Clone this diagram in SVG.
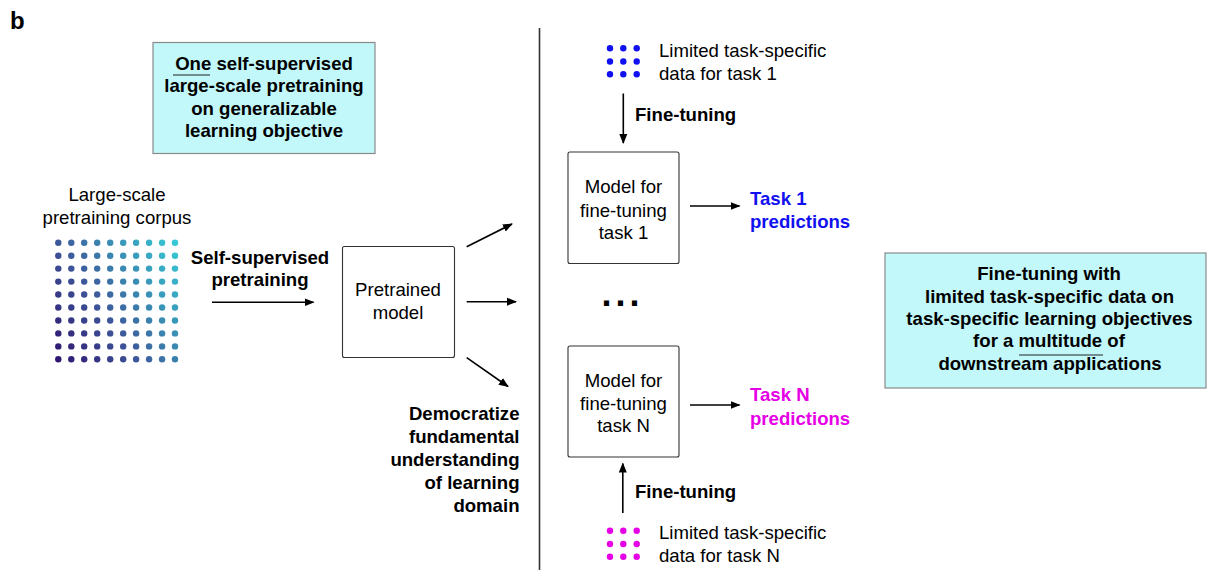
<svg xmlns="http://www.w3.org/2000/svg" width="1208" height="570" viewBox="0 0 1208 570">
<style>
text{font-family:"Liberation Sans",Arial,Helvetica,sans-serif;font-size:18.6px;fill:#000}
.b{font-weight:bold}
.c{text-anchor:middle}
.r{text-anchor:end}
.cyan{fill:#c2f8fa;stroke:#8a8a8a;stroke-width:1.2}
.box{fill:#fff;stroke:#333;stroke-width:1.1}
.arr{stroke:#000;stroke-width:1.6;fill:none;marker-end:url(#ah)}
.ul{stroke:#222;stroke-width:1.2}
.blue{fill:#1010f0}
.mag{fill:#e600e6}
</style>
<defs>
<marker id="ah" markerUnits="userSpaceOnUse" markerWidth="10" markerHeight="10" viewBox="0 0 10 10" refX="9" refY="5" orient="auto">
<path d="M0,1 L10,5 L0,9 Z" fill="#000"/>
</marker>
<linearGradient id="dg" gradientUnits="userSpaceOnUse" x1="57" y1="359" x2="192" y2="268">
<stop offset="0" stop-color="#2f1570"/>
<stop offset="0.4" stop-color="#3d5699"/>
<stop offset="0.6" stop-color="#3b80ad"/>
<stop offset="1" stop-color="#36c9d4"/>
</linearGradient>
</defs>
<rect width="1208" height="570" fill="#fff"/>
<text x="10" y="29" class="b" style="font-size:24px">b</text>
<line x1="539.5" y1="28" x2="539.5" y2="570" stroke="#333" stroke-width="1.6"/>

<g id="pretrain-objective">
<rect x="153" y="42.5" width="222" height="111" class="cyan"/>
<text x="264" y="69.5" class="b c">One self-supervised</text>
<line x1="173" y1="75" x2="210" y2="75" class="ul"/>
<text x="264" y="92" class="b c">large-scale pretraining</text>
<text x="264" y="114.5" class="b c">on generalizable</text>
<text x="264" y="137" class="b c">learning objective</text>
</g>

<g id="corpus">
<text x="117" y="201" class="c">Large-scale</text>
<text x="117" y="223.5" class="c">pretraining corpus</text>
<g fill="url(#dg)">
<circle cx="58.3" cy="242.7" r="3.2"/><circle cx="71.3" cy="242.7" r="3.2"/><circle cx="84.2" cy="242.7" r="3.2"/><circle cx="97.2" cy="242.7" r="3.2"/><circle cx="110.2" cy="242.7" r="3.2"/><circle cx="123.2" cy="242.7" r="3.2"/><circle cx="136.1" cy="242.7" r="3.2"/><circle cx="149.1" cy="242.7" r="3.2"/><circle cx="162.1" cy="242.7" r="3.2"/><circle cx="175" cy="242.7" r="3.2"/>
<circle cx="58.3" cy="255.7" r="3.2"/><circle cx="71.3" cy="255.7" r="3.2"/><circle cx="84.2" cy="255.7" r="3.2"/><circle cx="97.2" cy="255.7" r="3.2"/><circle cx="110.2" cy="255.7" r="3.2"/><circle cx="123.2" cy="255.7" r="3.2"/><circle cx="136.1" cy="255.7" r="3.2"/><circle cx="149.1" cy="255.7" r="3.2"/><circle cx="162.1" cy="255.7" r="3.2"/><circle cx="175" cy="255.7" r="3.2"/>
<circle cx="58.3" cy="268.6" r="3.2"/><circle cx="71.3" cy="268.6" r="3.2"/><circle cx="84.2" cy="268.6" r="3.2"/><circle cx="97.2" cy="268.6" r="3.2"/><circle cx="110.2" cy="268.6" r="3.2"/><circle cx="123.2" cy="268.6" r="3.2"/><circle cx="136.1" cy="268.6" r="3.2"/><circle cx="149.1" cy="268.6" r="3.2"/><circle cx="162.1" cy="268.6" r="3.2"/><circle cx="175" cy="268.6" r="3.2"/>
<circle cx="58.3" cy="281.6" r="3.2"/><circle cx="71.3" cy="281.6" r="3.2"/><circle cx="84.2" cy="281.6" r="3.2"/><circle cx="97.2" cy="281.6" r="3.2"/><circle cx="110.2" cy="281.6" r="3.2"/><circle cx="123.2" cy="281.6" r="3.2"/><circle cx="136.1" cy="281.6" r="3.2"/><circle cx="149.1" cy="281.6" r="3.2"/><circle cx="162.1" cy="281.6" r="3.2"/><circle cx="175" cy="281.6" r="3.2"/>
<circle cx="58.3" cy="294.5" r="3.2"/><circle cx="71.3" cy="294.5" r="3.2"/><circle cx="84.2" cy="294.5" r="3.2"/><circle cx="97.2" cy="294.5" r="3.2"/><circle cx="110.2" cy="294.5" r="3.2"/><circle cx="123.2" cy="294.5" r="3.2"/><circle cx="136.1" cy="294.5" r="3.2"/><circle cx="149.1" cy="294.5" r="3.2"/><circle cx="162.1" cy="294.5" r="3.2"/><circle cx="175" cy="294.5" r="3.2"/>
<circle cx="58.3" cy="307.5" r="3.2"/><circle cx="71.3" cy="307.5" r="3.2"/><circle cx="84.2" cy="307.5" r="3.2"/><circle cx="97.2" cy="307.5" r="3.2"/><circle cx="110.2" cy="307.5" r="3.2"/><circle cx="123.2" cy="307.5" r="3.2"/><circle cx="136.1" cy="307.5" r="3.2"/><circle cx="149.1" cy="307.5" r="3.2"/><circle cx="162.1" cy="307.5" r="3.2"/><circle cx="175" cy="307.5" r="3.2"/>
<circle cx="58.3" cy="320.5" r="3.2"/><circle cx="71.3" cy="320.5" r="3.2"/><circle cx="84.2" cy="320.5" r="3.2"/><circle cx="97.2" cy="320.5" r="3.2"/><circle cx="110.2" cy="320.5" r="3.2"/><circle cx="123.2" cy="320.5" r="3.2"/><circle cx="136.1" cy="320.5" r="3.2"/><circle cx="149.1" cy="320.5" r="3.2"/><circle cx="162.1" cy="320.5" r="3.2"/><circle cx="175" cy="320.5" r="3.2"/>
<circle cx="58.3" cy="333.4" r="3.2"/><circle cx="71.3" cy="333.4" r="3.2"/><circle cx="84.2" cy="333.4" r="3.2"/><circle cx="97.2" cy="333.4" r="3.2"/><circle cx="110.2" cy="333.4" r="3.2"/><circle cx="123.2" cy="333.4" r="3.2"/><circle cx="136.1" cy="333.4" r="3.2"/><circle cx="149.1" cy="333.4" r="3.2"/><circle cx="162.1" cy="333.4" r="3.2"/><circle cx="175" cy="333.4" r="3.2"/>
<circle cx="58.3" cy="346.4" r="3.2"/><circle cx="71.3" cy="346.4" r="3.2"/><circle cx="84.2" cy="346.4" r="3.2"/><circle cx="97.2" cy="346.4" r="3.2"/><circle cx="110.2" cy="346.4" r="3.2"/><circle cx="123.2" cy="346.4" r="3.2"/><circle cx="136.1" cy="346.4" r="3.2"/><circle cx="149.1" cy="346.4" r="3.2"/><circle cx="162.1" cy="346.4" r="3.2"/><circle cx="175" cy="346.4" r="3.2"/>
<circle cx="58.3" cy="359.3" r="3.2"/><circle cx="71.3" cy="359.3" r="3.2"/><circle cx="84.2" cy="359.3" r="3.2"/><circle cx="97.2" cy="359.3" r="3.2"/><circle cx="110.2" cy="359.3" r="3.2"/><circle cx="123.2" cy="359.3" r="3.2"/><circle cx="136.1" cy="359.3" r="3.2"/><circle cx="149.1" cy="359.3" r="3.2"/><circle cx="162.1" cy="359.3" r="3.2"/><circle cx="175" cy="359.3" r="3.2"/>
</g>
</g>

<g id="ssp-label">
<text x="260" y="263.5" class="b c">Self-supervised</text>
<text x="260" y="286" class="b c">pretraining</text>
</g>

<g id="pretrained-model">
<rect x="342.5" y="246.5" width="112" height="111" rx="2" class="box"/>
<text x="398" y="296" class="c">Pretrained</text>
<text x="398" y="318.5" class="c">model</text>
</g>

<g id="democratize">
<text x="519.5" y="420" class="b r">Democratize</text>
<text x="519.5" y="443" class="b r">fundamental</text>
<text x="519.5" y="465.5" class="b r">understanding</text>
<text x="519.5" y="488.5" class="b r">of learning</text>
<text x="519.5" y="511.5" class="b r">domain</text>
</g>

<g id="data-task1">
<g class="blue">
<circle cx="610" cy="48.3" r="3.2"/><circle cx="623.3" cy="48.3" r="3.2"/><circle cx="636.7" cy="48.3" r="3.2"/>
<circle cx="610" cy="61.5" r="3.2"/><circle cx="623.3" cy="61.5" r="3.2"/><circle cx="636.7" cy="61.5" r="3.2"/>
<circle cx="610" cy="74.2" r="3.2"/><circle cx="623.3" cy="74.2" r="3.2"/><circle cx="636.7" cy="74.2" r="3.2"/>
</g>
<text x="659" y="57">Limited task-specific</text>
<text x="659" y="79.5">data for task 1</text>
</g>

<g id="model-task1">
<rect x="568" y="152" width="111" height="111.5" rx="2" class="box"/>
<text x="623.5" y="193" class="c">Model for</text>
<text x="623.5" y="216.5" class="c">fine-tuning</text>
<text x="623.5" y="238.5" class="c">task 1</text>
</g>

<g id="pred-task1">
<text x="750" y="205" class="b blue">Task 1</text>
<text x="750" y="228.3" class="b blue">predictions</text>
</g>

<g id="ellipsis">
<text x="601.5" y="306" class="b" style="font-size:36px;letter-spacing:4px">...</text>
</g>

<g id="model-taskN">
<rect x="568" y="346" width="111" height="111" rx="2" class="box"/>
<text x="623.5" y="387" class="c">Model for</text>
<text x="623.5" y="410" class="c">fine-tuning</text>
<text x="623.5" y="432" class="c">task N</text>
</g>

<g id="pred-taskN">
<text x="750" y="401" class="b mag">Task N</text>
<text x="750" y="425" class="b mag">predictions</text>
</g>

<g id="data-taskN">
<g class="mag">
<circle cx="610" cy="530.7" r="3.2"/><circle cx="623.3" cy="530.7" r="3.2"/><circle cx="636.7" cy="530.7" r="3.2"/>
<circle cx="610" cy="544" r="3.2"/><circle cx="623.3" cy="544" r="3.2"/><circle cx="636.7" cy="544" r="3.2"/>
<circle cx="610" cy="556.7" r="3.2"/><circle cx="623.3" cy="556.7" r="3.2"/><circle cx="636.7" cy="556.7" r="3.2"/>
</g>
<text x="659" y="538.5">Limited task-specific</text>
<text x="659" y="561.5">data for task N</text>
</g>

<g id="finetune-objective">
<rect x="885" y="253" width="321" height="135" class="cyan"/>
<text x="1049" y="279.5" class="b c">Fine-tuning with</text>
<text x="1049.5" y="302.5" class="b c">limited task-specific data on</text>
<text x="1049.5" y="325" class="b c">task-specific learning objectives</text>
<text x="1049" y="347" class="b c">for a multitude of</text>
<line x1="1019" y1="355" x2="1103" y2="355" class="ul"/>
<text x="1050" y="369.5" class="b c">downstream applications</text>
</g>

<g id="connectors">
<line x1="212" y1="302.3" x2="313.5" y2="302.3" class="arr"/>
<line x1="466.7" y1="246.7" x2="512" y2="224" class="arr"/>
<line x1="466.7" y1="301.7" x2="516" y2="301.7" class="arr"/>
<line x1="466.7" y1="357.7" x2="508" y2="386.5" class="arr"/>
<line x1="623.3" y1="93.5" x2="623.3" y2="143" class="arr"/>
<text x="635" y="121" class="b">Fine-tuning</text>
<line x1="690" y1="206" x2="739.5" y2="206" class="arr"/>
<line x1="690" y1="405" x2="739.5" y2="405" class="arr"/>
<line x1="622.8" y1="513" x2="622.8" y2="463.5" class="arr"/>
<text x="635" y="497.5" class="b">Fine-tuning</text>
</g>
</svg>
